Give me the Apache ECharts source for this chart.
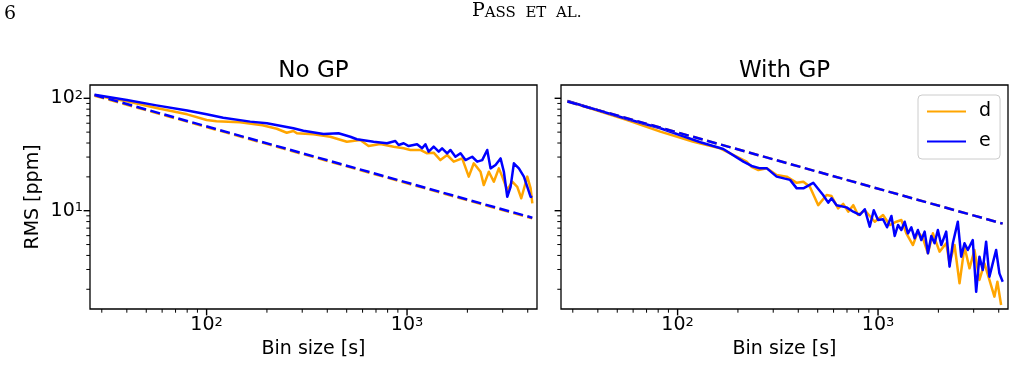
<!DOCTYPE html>
<html><head><meta charset="utf-8">
<script src="https://cdn.jsdelivr.net/npm/echarts@6/dist/echarts.min.js"></script>
<style>html,body{margin:0;padding:0;background:#fff}#c{width:1015px;height:365px}</style>
</head><body><div id="c"></div>
<script>
// ---------- data ----------
// Left panel: "No GP"
const noGP_d_x = [27.6, 40, 56.2, 80, 100, 112, 146.7, 190, 224, 251, 271, 282, 341, 414, 501, 584, 643, 735, 857, 962, 1039, 1165, 1259, 1358, 1467, 1585, 1710, 1884, 2032, 2153, 2326, 2415, 2559, 2710, 2871, 2985, 3162, 3350, 3548, 3715, 3981, 4136, 4217];
const noGP_d_y = [106.3, 94, 82, 72, 64.1, 62.4, 61.2, 57.5, 53.6, 49.4, 51.2, 48.8, 47.8, 45.5, 41.1, 42.6, 37.6, 39.2, 37.1, 35.9, 34.7, 34.7, 32.4, 32.8, 28.2, 31.3, 27.3, 29.2, 20.1, 26.4, 22.2, 16.9, 22.2, 18.1, 23.8, 20.1, 15.3, 18.1, 16.3, 12.9, 20.1, 15.8, 11.6];
const noGP_e_x = [27.6, 40, 56.2, 80, 100, 121, 165, 200, 251, 271, 304, 383, 455, 521, 562, 681, 794, 874, 908, 962, 1019, 1122, 1189, 1235, 1282, 1358, 1439, 1496, 1585, 1647, 1744, 1848, 1957, 2113, 2239, 2371, 2512, 2610, 2764, 2928, 3041, 3162, 3285, 3412, 3614, 3828, 3981, 4136, 4217];
const noGP_e_y = [107.6, 96.4, 86.5, 78, 72, 67, 62, 60, 55.5, 54.1, 51.5, 48.1, 48.8, 45.5, 43.2, 41.1, 39.8, 41.7, 38.4, 39.8, 37.6, 39.0, 35.9, 39.0, 33.5, 37.1, 33.5, 35.9, 32.4, 34.7, 30.2, 32.4, 28.2, 30.2, 27.3, 28.2, 34.7, 23.8, 25.5, 29.2, 22.2, 13.3, 16.3, 26.4, 23.8, 20.1, 16.3, 13.3, 13.2];
const noGP_wn_x = [27.6, 4217];
const noGP_wn_d_y = [105.5, 8.54];
const noGP_wn_e_y = [107, 8.66];

// Right panel: "With GP"
const GP_d_x = [28.2, 56.0, 82.0, 120, 163, 221, 234, 253, 279, 312, 350, 393, 424, 457, 503, 554, 586, 632, 670, 710, 752, 795, 859, 963, 1059, 1143, 1234, 1307, 1384, 1493, 1581, 1675, 1774, 1878, 2027, 2188, 2274, 2408, 2550, 2700, 2860, 3027, 3205, 3394, 3595, 3807, 3940, 4111];
const GP_d_y = [94.6, 64.1, 50.5, 41.1, 35.9, 27.3, 24.6, 23.0, 23.8, 20.8, 20.1, 17.7, 18.1, 16.3, 11.2, 13.8, 13.5, 10.5, 11.5, 9.8, 11.2, 9.16, 10.1, 7.98, 9.16, 7.46, 7.98, 8.26, 6.29, 4.95, 6.51, 5.68, 4.18, 6.29, 4.32, 5.13, 3.40, 4.95, 2.26, 4.78, 3.07, 4.47, 2.42, 3.40, 2.42, 1.72, 2.33, 1.45];
const GP_e_x = [28.2, 56.0, 82.0, 100, 130, 169, 213, 234, 258, 279, 312, 364, 393, 424, 475, 532, 564, 586, 621, 696, 752, 811, 859, 909, 952, 1000, 1059, 1109, 1166, 1211, 1258, 1307, 1358, 1410, 1466, 1523, 1581, 1644, 1708, 1774, 1844, 1915, 1988, 2068, 2188, 2274, 2361, 2500, 2600, 2700, 2805, 2969, 3087, 3205, 3330, 3461, 3595, 3734, 3882, 4032, 4188];
const GP_e_y = [94.6, 65.4, 54.1, 47.9, 40.6, 35.4, 27.3, 25.0, 23.8, 23.8, 20.1, 18.8, 15.8, 15.8, 17.7, 13.8, 11.8, 12.9, 11.2, 10.7, 9.8, 9.16, 10.3, 7.21, 10.1, 8.26, 8.39, 7.12, 8.97, 5.96, 7.46, 6.73, 7.98, 6.29, 7.12, 5.68, 6.73, 5.48, 6.51, 4.18, 5.96, 5.13, 6.73, 4.95, 6.51, 3.18, 5.13, 7.98, 3.90, 5.13, 4.47, 5.48, 1.90, 3.90, 2.97, 5.30, 2.59, 3.40, 4.47, 2.77, 2.33];
const GP_wn_x = [28.2, 4188];
const GP_wn_d_y = [93.5, 7.67];
const GP_wn_e_y = [93.5, 7.67];

// axes
const X_MIN = 26.2, X_MAX = 4450, Y_MIN = 1.335, Y_MAX = 131.3;
const xMajorTicks = [100, 1000];
const xMinorTicks = [30, 40, 50, 60, 70, 80, 90, 200, 300, 400, 500, 600, 700, 800, 900, 2000, 3000, 4000];
const yMajorTicks = [10, 100];
const yMinorTicks = [2, 3, 4, 5, 6, 7, 8, 9, 20, 30, 40, 50, 60, 70, 80, 90];

const titles = ['No GP', 'With GP'];
const xName = 'Bin size [s]';
const yName = 'RMS [ppm]';
const legendNames = ['d', 'e'];

// ---------- chart ----------
const FONT = 'DejaVu Sans';
const ORANGE = '#FFA500', BLUE = '#0000FF';
const LW = 2.5;
const DASH = [10, 4.5];

function pairs(xs, ys) { return xs.map((x, i) => [x, ys[i]]); }
function powFmt(v) {
  const l = Math.log10(v), e = Math.round(l);
  if (Math.abs(l - e) > 1e-6) return '';
  return '{b|10}{s|' + e + '}';
}
const labelRich = {
  b: { fontFamily: FONT, fontSize: 19, color: '#000' },
  s: { fontFamily: FONT, fontSize: 13, color: '#000', verticalAlign: 'top' }
};

const tickData = [];
xMajorTicks.forEach(v => tickData.push([v, Y_MIN, 0, 1]));
xMinorTicks.forEach(v => tickData.push([v, Y_MIN, 0, 0]));
yMajorTicks.forEach(v => tickData.push([X_MIN, v, 1, 1]));
yMinorTicks.forEach(v => tickData.push([X_MIN, v, 1, 0]));

function tickSeries(idx) {
  return {
    type: 'custom', xAxisIndex: idx, yAxisIndex: idx, clip: false, silent: true, z: 10,
    encode: { x: 0, y: 1 },
    data: tickData,
    renderItem: function (params, api) {
      const p = api.coord([api.value(0), api.value(1)]);
      const major = api.value(3) === 1;
      const len = major ? 6.4 : 3.7;
      const lw = major ? 1.4 : 1.0;
      let shape;
      if (api.value(2) === 0) shape = { x1: p[0], y1: p[1], x2: p[0], y2: p[1] + len };
      else shape = { x1: p[0], y1: p[1], x2: p[0] - len, y2: p[1] };
      return { type: 'line', shape: shape, style: { stroke: '#000', lineWidth: lw } };
    }
  };
}

function lineSeries(name, idx, data, color, dashed, z) {
  return {
    name: name, type: 'line', xAxisIndex: idx, yAxisIndex: idx, data: data,
    symbol: 'none', showSymbol: false, smooth: false, z: z,
    lineStyle: { color: color, width: LW, type: dashed ? DASH : 'solid', cap: 'butt', join: 'round' },
    itemStyle: { color: color },
    emphasis: { disabled: true }
  };
}

const grids = [
  { left: 90, top: 85, width: 447, height: 224 },
  { left: 561, top: 85, width: 447, height: 224 }
].map(g => Object.assign(g, { show: true, borderColor: '#000', borderWidth: 1.3, backgroundColor: 'transparent', containLabel: false, outerBoundsMode: 'none' }));

function xAxis(idx) {
  return {
    type: 'log', logBase: 10, gridIndex: idx, min: X_MIN, max: X_MAX,
    axisLine: { show: false }, axisTick: { show: false }, splitLine: { show: false }, minorTick: { show: false },
    axisLabel: { show: true, formatter: powFmt, rich: labelRich, margin: 7, showMinLabel: true, showMaxLabel: true, hideOverlap: false },
    name: xName, nameLocation: 'middle', nameGap: 31,
    nameTextStyle: { fontFamily: FONT, fontSize: 19, color: '#000' }
  };
}
function yAxis(idx) {
  return {
    type: 'log', logBase: 10, gridIndex: idx, min: Y_MIN, max: Y_MAX,
    axisLine: { show: false }, axisTick: { show: false }, splitLine: { show: false }, minorTick: { show: false },
    axisLabel: { show: idx === 0, formatter: powFmt, rich: labelRich, margin: 7, hideOverlap: false },
    name: idx === 0 ? yName : '', nameLocation: 'middle', nameGap: 47, nameRotate: 90,
    nameTextStyle: { fontFamily: FONT, fontSize: 19, color: '#000' }
  };
}

const chart = echarts.init(document.getElementById('c'), null, { renderer: 'canvas' });
chart.setOption({
  animation: false,
  backgroundColor: '#fff',
  textStyle: { fontFamily: FONT },
  grid: grids,
  xAxis: [xAxis(0), xAxis(1)],
  yAxis: [yAxis(0), yAxis(1)],
  legend: {
    data: legendNames, orient: 'vertical', left: 918, top: 95,
    padding: [7, 9, 8, 8], itemGap: 11, itemWidth: 39, itemHeight: 14,
    itemStyle: { opacity: 0 },
    textStyle: { fontFamily: FONT, fontSize: 19, color: '#000', padding: [0, 0, 0, 8] },
    backgroundColor: 'rgba(255,255,255,0.8)', borderColor: '#cccccc', borderWidth: 1, borderRadius: 4,
    selectedMode: false
  },
  graphic: [
    { type: 'text', left: 4, top: 5, style: { text: '6', fontFamily: 'DejaVu Serif', fontSize: 19, fill: '#000' } },
    { type: 'text', x: 526.7, y: 21, style: {
        text: '{p|P}{c|ASS  ET  AL.}', align: 'center', verticalAlign: 'bottom',
        rich: { p: { fontFamily: 'DejaVu Serif', fontSize: 19, verticalAlign: 'bottom' }, c: { fontFamily: 'DejaVu Serif', fontSize: 15, verticalAlign: 'bottom' } },
        fill: '#000' } },
    { type: 'text', x: 313.5, y: 71, style: { text: titles[0], align: 'center', verticalAlign: 'middle', fontFamily: FONT, fontSize: 23, fill: '#000' } },
    { type: 'text', x: 784.5, y: 71, style: { text: titles[1], align: 'center', verticalAlign: 'middle', fontFamily: FONT, fontSize: 23, fill: '#000' } }
  ],
  series: [
    lineSeries('d', 0, pairs(noGP_d_x, noGP_d_y), ORANGE, false, 2),
    lineSeries('e', 0, pairs(noGP_e_x, noGP_e_y), BLUE, false, 3),
    lineSeries('d white noise', 0, pairs(noGP_wn_x, noGP_wn_d_y), ORANGE, true, 4),
    lineSeries('e white noise', 0, pairs(noGP_wn_x, noGP_wn_e_y), BLUE, true, 5),
    lineSeries('d', 1, pairs(GP_d_x, GP_d_y), ORANGE, false, 2),
    lineSeries('e', 1, pairs(GP_e_x, GP_e_y), BLUE, false, 3),
    lineSeries('d white noise', 1, pairs(GP_wn_x, GP_wn_d_y), ORANGE, true, 4),
    lineSeries('e white noise', 1, pairs(GP_wn_x, GP_wn_e_y), BLUE, true, 5),
    tickSeries(0),
    tickSeries(1)
  ]
});
</script>
</body></html>
